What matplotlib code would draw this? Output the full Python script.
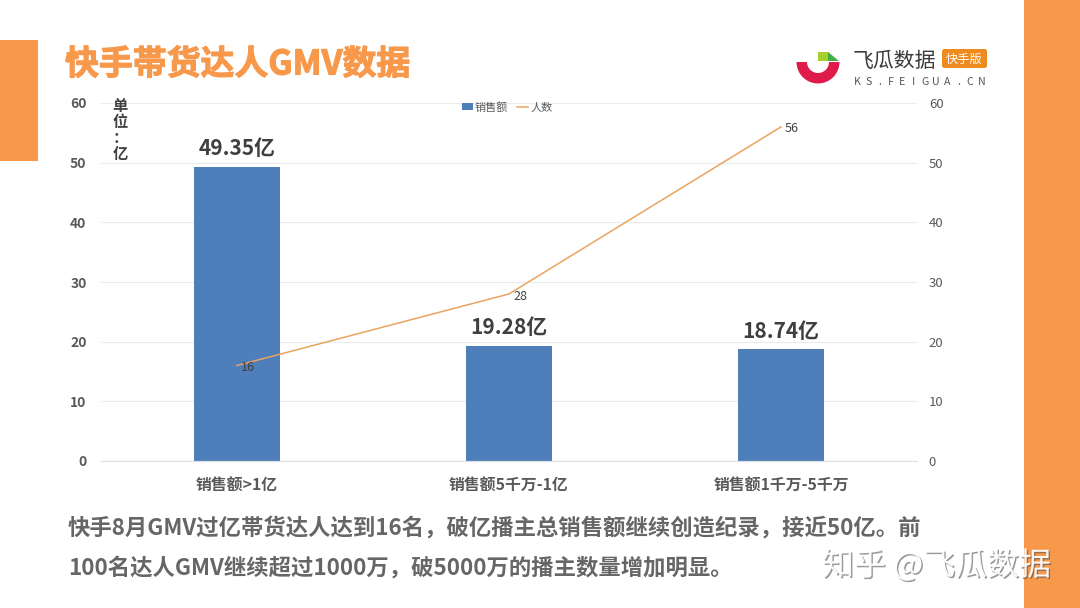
import matplotlib
matplotlib.use("Agg")
import matplotlib.pyplot as plt
from matplotlib.patches import Rectangle, Wedge, Polygon, FancyBboxPatch
import matplotlib.patheffects as pe

plt.rcParams['font.family'] = ['Noto Sans CJK SC', 'DejaVu Sans']

categories = ['销售额>1亿', '销售额5千万-1亿', '销售额1千万-5千万']
sales = [49.35, 19.28, 18.74]
people = [16, 28, 56]
sales_labels = ['49.35亿', '19.28亿', '18.74亿']
yticks = [0, 10, 20, 30, 40, 50, 60]
title = '快手帯货达人GMV数据'
body_lines = ['快手8月GMV过亿帯货达人达到16名，破亿播主总销售额继续创造纪录，接近50亿。前',
              '100名达人GMV继续超过1000万，破5000万的播主数量增加明显。']

ORANGE = '#F8984A'
BLUE = '#4E7FBB'
LINE = '#E9A45F'
GREY = '#595959'
W, H = 1080, 608

fig = plt.figure(figsize=(W / 100, H / 100), dpi=100, facecolor='white')

# page decoration in pixel coordinates
bg = fig.add_axes([0, 0, 1, 1])
bg.set_xlim(0, W)
bg.set_ylim(H, 0)
bg.axis('off')
bg.add_patch(Rectangle((1024, 0), 56, H, fc=ORANGE, ec='none'))
bg.add_patch(Rectangle((0, 40), 38, 121, fc=ORANGE, ec='none'))
bg.text(65, 64, title, fontsize=24.4, fontweight='bold', color=ORANGE, va='center', ha='left',
        path_effects=[pe.withStroke(linewidth=0.8, foreground=ORANGE)])

# logo
bg.add_patch(Wedge((818, 62), 21.5, 0, 180, width=10.5, fc='#DE1B4B', ec='none'))
bg.add_patch(Rectangle((818, 52), 10.5, 9, fc='#A5CF2E', ec='none'))
bg.add_patch(Polygon([[828, 52], [839, 61], [828, 61]], fc='#49A942', ec='none'))
bg.text(852.5, 61, '飞瓜数据', fontsize=15, color='#3A3A3A', va='center', ha='left')
bg.add_patch(FancyBboxPatch((942, 49), 45, 19, boxstyle='round,pad=0,rounding_size=2.5', fc='#EE8A1E', ec='none'))
bg.text(964.5, 59, '快手版', fontsize=8.8, color='white', va='center', ha='center')
for i, ch in enumerate('KS.FEIGUA.CN'):
    bg.text(857 + i * 11.3, 82, ch, fontsize=7.6, color='#555555', va='center', ha='center')

# chart
left, right, top, bottom = 101, 917, 103, 461
ax = fig.add_axes([left / W, 1 - bottom / H, (right - left) / W, (bottom - top) / H])
ax.patch.set_alpha(0)
x = list(range(len(categories)))
ax.bar(x, sales, width=0.316, color=BLUE, zorder=2, label='销售额')
ax.set_xlim(-0.5, 2.5)
ax.set_ylim(0, 60)
ax.set_yticks(yticks)
ax.set_xticks(x)
ax.set_xticklabels(categories, fontsize=11.4, fontweight='bold', color=GREY)
ax.tick_params(axis='x', length=0, pad=12)
ax.tick_params(axis='y', length=0, pad=10.4, labelsize=10, labelcolor=GREY)
for lab in ax.get_yticklabels():
    lab.set_fontweight('bold')
ax.grid(axis='y', color='#EBEBEB', lw=0.8, zorder=0)
for s in ['top', 'left', 'right']:
    ax.spines[s].set_visible(False)
ax.spines['bottom'].set_color('#E0E0E0')
ax.spines['bottom'].set_linewidth(0.8)

for xi, v, lab in zip(x, sales, sales_labels):
    ax.annotate(lab, (xi, v), xytext=(0, 5.5), textcoords='offset points', ha='center', va='bottom',
                fontsize=15, fontweight='bold', color='#3F3F3F', zorder=5)

ax2 = ax.twinx()
ax2.patch.set_alpha(0)
line, = ax2.plot(x, people, color=LINE, lw=1.1, zorder=4, label='人数')
ax2.set_ylim(0, 60)
ax2.set_yticks(yticks)
ax2.tick_params(axis='y', length=0, pad=8.5, labelsize=9.5, labelcolor=GREY)
for s in ax2.spines.values():
    s.set_visible(False)
offsets = [(8, -1.5), (8, -1.5), (8, -1)]
for xi, v, off in zip(x, people, offsets):
    ax2.annotate(str(v), (xi, v), xytext=off, textcoords='offset points', ha='center', va='center',
                 fontsize=9, color='#404040', zorder=6)

h1, l1 = ax.get_legend_handles_labels()
h2, l2 = ax2.get_legend_handles_labels()
ax.legend(h1 + h2, l1 + l2, loc='upper center', bbox_to_anchor=(0.4975, 1.018), ncol=2, frameon=False,
          fontsize=8, labelcolor=GREY, columnspacing=0.75, handlelength=1.0, handletextpad=0.2,
          handleheight=0.6, borderpad=0)

# unit label
fg = fig.add_axes([0, 0, 1, 1], zorder=10)
fg.set_xlim(0, W)
fg.set_ylim(H, 0)
fg.axis('off')
for ch, yy in zip(['单', '位', '：', '亿'], [106, 122, 138, 154]):
    fg.text(120, yy, ch, fontsize=11, fontweight='bold', color='#404040', ha='center', va='center')

# body text
for line_txt, yy in zip(body_lines, [528, 568]):
    fg.text(68, yy, line_txt, fontsize=16.1, fontweight='bold', color='#666666', ha='left', va='center')

# watermark
fg.text(822, 566, '知乎 @飞瓜数据', fontsize=23, color='white', ha='left', va='center', alpha=0.95,
        path_effects=[pe.withSimplePatchShadow(offset=(1, -1), shadow_rgbFace='#555555', alpha=0.6)])

fig.savefig('out.png', dpi=100)
